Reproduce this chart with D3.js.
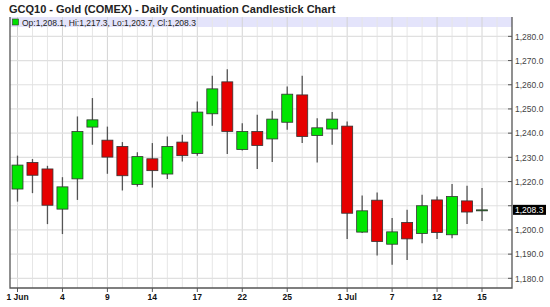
<!DOCTYPE html>
<html>
<head>
<meta charset="utf-8">
<script src="https://cdn.jsdelivr.net/npm/d3@7"></script>
<style>
  body { margin: 0; background: #fff; }
  svg { font-family: "Liberation Sans", Arial, sans-serif; }
</style>
</head>
<body>
<svg id="chart" width="550" height="307"></svg>
<script>
const dates = ["1 Jun","2","3","4","7","8","9","10","11","14","15","16","17","18","21","22","23","24","25","28","29","30",
  "1 Jul","2","6","7","8","9","12","13","14","15"];
const open  = [1216.9,1227.9,1225.2,1208.6,1221.1,1242.5,1237.1,1234.5,1218.8,1229.4,1223.1,1236.3,1231.6,1248.0,1261.2,1233.2,
  1240.7,1237.6,1244.5,1255.8,1239.0,1241.7,1242.9,1199.1,1212.3,1194.1,1203.1,1198.5,1212.4,1198.0,1212.0,1208.1];
const high  = [1230.7,1229.3,1226.5,1221.8,1246.9,1254.5,1242.7,1236.3,1232.1,1235.9,1238.6,1239.3,1253.1,1263.7,1266.4,1244.1,
  1247.6,1249.3,1259.3,1263.7,1246.2,1248.7,1244.8,1214.2,1215.5,1204.9,1208.3,1214.5,1213.8,1219.0,1218.3,1217.3];
const low   = [1211.7,1215.2,1202.4,1198.3,1212.4,1235.2,1223.2,1216.3,1217.9,1217.5,1221.0,1228.3,1230.7,1243.1,1231.4,1232.8,
  1225.2,1228.1,1241.4,1235.9,1227.9,1235.2,1196.3,1198.7,1189.4,1185.6,1187.6,1194.5,1196.3,1196.6,1202.5,1203.7];
const close = [1226.8,1222.6,1210.2,1217.8,1240.7,1245.5,1230.1,1222.4,1230.3,1224.5,1234.5,1230.7,1248.7,1258.3,1240.7,1240.7,
  1234.9,1245.8,1256.1,1238.6,1242.2,1245.8,1206.9,1207.9,1195.2,1199.2,1196.3,1210.0,1198.9,1213.8,1207.4,1208.3];
const xLabelIdx = [0,3,6,9,12,15,18,22,25,28,31];
const yTicks = [1180,1190,1200,1210,1220,1230,1240,1250,1260,1270,1280];

const svg = d3.select("#chart");
const pl = 10, pr = 512, pt = 17, pb = 288;

const x = d3.scaleLinear().domain([-0.5, 33]).range([pl, pr]);
const y = d3.scaleLinear().domain([1176, 1288]).range([pb, pt]);
const fmt = d3.format(",.1f");
let n = open.length - 1;
let last = close[n];

// title
svg.append("text")
  .text("GCQ10 - Gold (COMEX) - Daily Continuation Candlestick Chart")
  .attr("x", 9).attr("y", 13)
  .style("font-size", "11px").style("font-weight", "bold").attr("fill", "#222");

// legend band
svg.append("rect")
  .attr("x", pl).attr("y", pt).attr("width", pr - pl).attr("height", 10)
  .attr("fill", "#e4e4fb");

// grid
let slots = d3.range(0, 33);
svg.append("g").selectAll("line").data(slots).join("line")
  .attr("x1", d => x(d)).attr("x2", d => x(d))
  .attr("y1", pt).attr("y2", pb)
  .attr("stroke", d => xLabelIdx.includes(d) ? "#d4d4d4" : "#e6e6e6").attr("stroke-width", 1);
svg.append("g").selectAll("line").data(yTicks).join("line")
  .attr("x1", pl).attr("x2", pr)
  .attr("y1", d => y(d)).attr("y2", d => y(d))
  .attr("stroke", "#e0e0e0").attr("stroke-width", 1.2);

// legend content
svg.append("rect").attr("x", 12.5).attr("y", 19).attr("width", 6).attr("height", 6)
  .attr("fill", "#00e000").attr("stroke", "#333").attr("stroke-width", 0.6);
svg.append("text")
  .text("Op:" + fmt(open[n]) + ", Hi:" + fmt(high[n]) + ", Lo:" + fmt(low[n]) + ", Cl:" + fmt(close[n]))
  .attr("x", 22).attr("y", 25.5)
  .style("font-size", "8.5px").attr("fill", "#222");

// frame
svg.append("path")
  .attr("d", `M${pl},${pt}V${pb}H${pr}V${pt}`)
  .attr("fill", "none").attr("stroke", "#555").attr("stroke-width", 1.3);

// right axis (labels near the last-price box are hidden behind it)
let labelTicks = yTicks.filter(d => Math.abs(y(d) - y(last)) > 9);
const yAxis = svg.append("g").attr("transform", `translate(${pr},0)`)
  .call(d3.axisRight(y).tickValues(labelTicks).tickFormat(fmt).tickSize(0).tickPadding(3));
yAxis.select(".domain").remove();
yAxis.selectAll("text").style("font-size", "8.5px").attr("fill", "#444")
  .style("font-family", "'Liberation Sans', Arial, sans-serif");
svg.append("g").selectAll("line").data(yTicks).join("line")
  .attr("x1", pr - 4).attr("x2", pr)
  .attr("y1", d => y(d)).attr("y2", d => y(d))
  .attr("stroke", "#555");

// bottom axis
svg.append("g").selectAll("line").data(xLabelIdx).join("line")
  .attr("x1", d => x(d)).attr("x2", d => x(d))
  .attr("y1", pb).attr("y2", pb + 4)
  .attr("stroke", "#555");
svg.append("g").selectAll("text").data(xLabelIdx).join("text")
  .text(d => dates[d])
  .attr("x", d => x(d)).attr("y", 299.5)
  .attr("text-anchor", "middle")
  .style("font-size", "8.5px").style("font-weight", "bold").attr("fill", "#111");

// candles
const idx = d3.range(open.length);
const cw = 11;
const candles = svg.append("g").selectAll("g").data(idx).join("g");
candles.append("line")
  .attr("x1", i => x(i)).attr("x2", i => x(i))
  .attr("y1", i => y(high[i])).attr("y2", i => y(low[i]))
  .attr("stroke", "#555").attr("stroke-width", 1.3);
candles.append("rect")
  .attr("x", i => x(i) - cw / 2).attr("width", cw)
  .attr("y", i => y(Math.max(open[i], close[i])))
  .attr("height", i => Math.max(1, y(Math.min(open[i], close[i])) - y(Math.max(open[i], close[i]))))
  .attr("fill", i => close[i] >= open[i] ? "#00e600" : "#e60000")
  .attr("stroke", "#333").attr("stroke-width", 0.8);

// last price marker
svg.append("rect")
  .attr("x", pr + 1).attr("y", y(last) - 5).attr("width", 33).attr("height", 10)
  .attr("fill", "#000");
svg.append("text")
  .text(fmt(last))
  .attr("x", pr + 3).attr("y", y(last) + 3)
  .style("font-size", "8.5px").attr("fill", "#fff");
</script>
</body>
</html>
